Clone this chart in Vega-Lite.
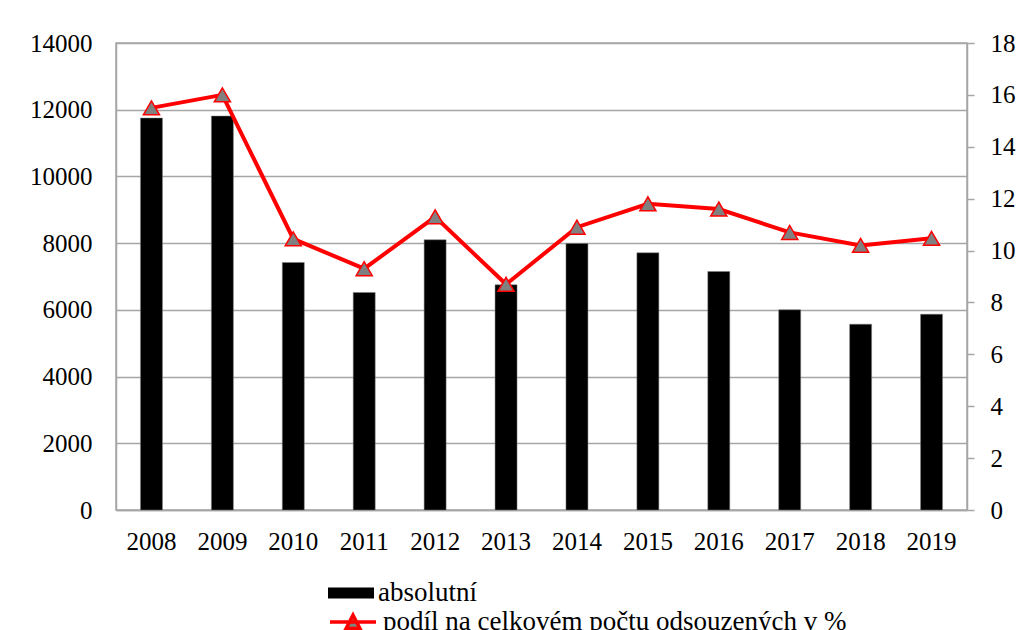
{
  "$schema": "https://vega.github.io/schema/vega-lite/v6.json",
  "autosize": "none",
  "width": 851,
  "height": 467,
  "padding": {"left": 116, "top": 43, "right": 54, "bottom": 120},
  "background": "white",
  "config": {
    "font": "Liberation Serif",
    "view": {"stroke": "#a6a6a6", "strokeWidth": 1.5},
    "axis": {"labelFont": "Liberation Serif", "labelFontSize": 25, "labelColor": "black", "domainColor": "#a6a6a6", "domainWidth": 1.5, "tickColor": "#a6a6a6", "tickWidth": 1.5, "gridColor": "#a6a6a6", "gridWidth": 1.5, "title": null},
    "legend": {"labelFont": "Liberation Serif", "labelFontSize": 27, "labelColor": "black", "labelLimit": 1000, "title": null}
  },
  "data": {
    "values": [
      {"rok": "2008", "absolutni": 11750, "podil": 15.5},
      {"rok": "2009", "absolutni": 11810, "podil": 16.0},
      {"rok": "2010", "absolutni": 7420, "podil": 10.45},
      {"rok": "2011", "absolutni": 6520, "podil": 9.3},
      {"rok": "2012", "absolutni": 8100, "podil": 11.3},
      {"rok": "2013", "absolutni": 6750, "podil": 8.7},
      {"rok": "2014", "absolutni": 7990, "podil": 10.9},
      {"rok": "2015", "absolutni": 7710, "podil": 11.8},
      {"rok": "2016", "absolutni": 7150, "podil": 11.6},
      {"rok": "2017", "absolutni": 6000, "podil": 10.7},
      {"rok": "2018", "absolutni": 5570, "podil": 10.2},
      {"rok": "2019", "absolutni": 5870, "podil": 10.47}
    ]
  },
  "encoding": {
    "x": {
      "field": "rok",
      "type": "ordinal",
      "scale": {"paddingInner": 0, "paddingOuter": 0},
      "axis": {"labelAngle": 0, "ticks": false, "labelPadding": 19, "domainColor": "#a6a6a6"}
    }
  },
  "layer": [
    {
      "mark": {"type": "bar", "width": {"band": 0.31}, "stroke": "#7f7f7f", "strokeWidth": 0.5},
      "encoding": {
        "y": {
          "field": "absolutni",
          "type": "quantitative",
          "scale": {"domain": [0, 14000], "nice": false},
          "axis": {"values": [0, 2000, 4000, 6000, 8000, 10000, 12000, 14000], "format": "d", "ticks": false, "labelPadding": 24, "grid": true}
        },
        "fill": {
          "datum": "absolutní",
          "scale": {"domain": ["absolutní"], "range": ["black"]},
          "legend": {"orient": "none", "legendX": 212, "legendY": 527, "symbolType": "M-1,-0.24H1V0.24H-1Z", "symbolSize": 2116, "symbolStrokeWidth": 0, "labelOffset": 4}
        }
      }
    },
    {
      "encoding": {
        "y": {
          "field": "podil",
          "type": "quantitative",
          "scale": {"domain": [0, 18], "nice": false},
          "axis": {"orient": "right", "values": [0, 2, 4, 6, 8, 10, 12, 14, 16, 18], "tickSize": 7, "labelPadding": 16, "grid": false}
        }
      },
      "layer": [
        {
          "mark": {"type": "line", "strokeWidth": 4},
          "encoding": {
            "stroke": {
              "datum": "podíl na celkovém počtu odsouzených v %",
              "scale": {"domain": ["podíl na celkovém počtu odsouzených v %"], "range": ["#ff0000"]},
              "legend": {
                "orient": "none", "legendX": 212, "legendY": 554,
                "symbolType": "M-1,0H1M-0.3,0.28L0,-0.3L0.3,0.28Z", "symbolSize": 2116, "symbolStrokeWidth": 3.5, "symbolFillColor": "#808080", "labelOffset": 5,
                "encode": {"symbols": {"update": {"fill": {"value": "#808080"}, "stroke": {"value": "#ff0000"}, "strokeWidth": {"value": 3.5}, "opacity": {"value": 1}}}}
              }
            }
          }
        },
        {"mark": {"type": "point", "shape": "triangle-up", "filled": true, "fill": "#808080", "stroke": "#ff0000", "strokeWidth": 1.5, "size": 260, "opacity": 1}}
      ]
    }
  ],
  "resolve": {"scale": {"y": "independent"}}
}
